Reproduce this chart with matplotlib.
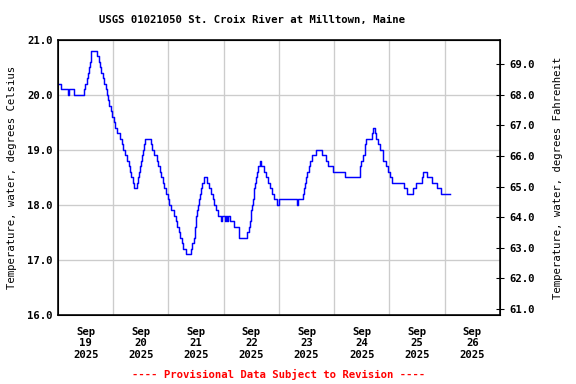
import matplotlib
matplotlib.use("Agg")
import matplotlib.pyplot as plt

# heures depuis le 19 sept 00:00 et temperature (degC)
heures = [0.0, 1.3, 4.4, 4.8, 7.0, 11.1, 11.8, 12.4, 13.1, 13.5, 14.0, 14.2, 14.4,
          17.0, 17.7, 18.1, 18.8, 19.4, 20.1, 20.7, 21.2, 21.6, 22.3, 22.9, 23.6,
          24.2, 24.9, 25.7, 27.1, 27.7, 28.4, 29.2, 30.1, 30.8, 31.4, 31.9, 32.5,
          32.9, 34.3, 34.9, 35.3, 35.8, 36.2, 36.7, 37.1, 37.5, 38.0, 40.4, 41.0,
          41.9, 42.8, 43.4, 44.1, 44.7, 45.4, 46.1, 46.7, 47.6, 48.4, 49.3, 50.2,
          51.1, 51.9, 52.6, 53.2, 53.9, 54.5, 55.4, 57.6, 58.3, 58.9, 59.6, 60.0,
          60.4, 60.9, 61.3, 61.7, 62.2, 62.6, 63.3, 64.6, 65.5, 66.3, 67.2, 67.9,
          68.5, 69.4, 70.7, 71.3, 72.4, 72.9, 73.3, 73.8, 74.6, 76.4, 78.6, 82.3,
          82.9, 83.4, 83.8, 84.2, 84.7, 85.1, 85.5, 86.0, 86.4, 87.1, 87.7, 88.2,
          89.7, 90.3, 91.2, 92.1, 92.9, 93.8, 95.3, 96.0, 103.9, 104.3, 106.5,
          106.9, 107.4, 107.8, 108.2, 108.9, 109.3, 110.2, 112.2, 114.8, 116.3,
          117.4, 119.6, 124.5, 131.0, 131.4, 131.8, 132.5, 133.2, 133.5, 134.0,
          136.2, 136.9, 137.6, 138.3, 139.1, 140.1, 141.0, 141.4, 142.3, 143.4,
          144.2, 144.9, 150.2, 151.4, 154.4, 155.4, 158.0, 158.7, 160.4, 162.5,
          164.5, 166.3, 170.4]
temp_c = [20.2, 20.1, 20.0, 20.1, 20.0, 20.1, 20.2, 20.3, 20.4, 20.5, 20.6, 20.7, 20.8,
          20.7, 20.6, 20.5, 20.4, 20.3, 20.2, 20.1, 20.0, 19.9, 19.8, 19.7, 19.6,
          19.5, 19.4, 19.3, 19.2, 19.1, 19.0, 18.9, 18.8, 18.7, 18.6, 18.5, 18.4,
          18.3, 18.4, 18.5, 18.6, 18.7, 18.8, 18.9, 19.0, 19.1, 19.2, 19.1, 19.0,
          18.9, 18.8, 18.7, 18.6, 18.5, 18.4, 18.3, 18.2, 18.1, 18.0, 17.9, 17.8,
          17.7, 17.6, 17.5, 17.4, 17.3, 17.2, 17.1, 17.2, 17.3, 17.4, 17.6, 17.8,
          17.9, 18.0, 18.1, 18.2, 18.3, 18.4, 18.5, 18.4, 18.3, 18.2, 18.1, 18.0,
          17.9, 17.8, 17.7, 17.8, 17.7, 17.8, 17.7, 17.8, 17.7, 17.6, 17.4, 17.5,
          17.6, 17.7, 17.9, 18.0, 18.1, 18.3, 18.4, 18.5, 18.6, 18.7, 18.8, 18.7,
          18.6, 18.5, 18.4, 18.3, 18.2, 18.1, 18.0, 18.1, 18.0, 18.1, 18.2,
          18.3, 18.4, 18.5, 18.6, 18.7, 18.8, 18.9, 19.0, 18.9, 18.8,
          18.7, 18.6, 18.5, 18.6, 18.7, 18.8, 18.9, 19.0, 19.1, 19.2,
          19.3, 19.4, 19.3, 19.2, 19.1, 19.0, 18.9, 18.8, 18.7, 18.6,
          18.5, 18.4, 18.3, 18.2, 18.3, 18.4, 18.5, 18.6, 18.5, 18.4,
          18.3, 18.2, 18.2]

jours = ["19", "20", "21", "22", "23", "24", "25", "26"]
yticks_c = [16.0, 17.0, 18.0, 19.0, 20.0, 21.0]
yticks_f = [61.0, 62.0, 63.0, 64.0, 65.0, 66.0, 67.0, 68.0, 69.0]

plt.rcParams['font.family'] = 'DejaVu Sans Mono'
plt.rcParams['font.weight'] = 'bold'
plt.rcParams['font.size'] = 8

fig = plt.figure(figsize=(6, 4), dpi=96)
ax = fig.add_axes([0.1007, 0.180, 0.7673, 0.716])

ax.plot(heures, temp_c, color='blue', linewidth=1.1, drawstyle='steps-post')

ax.set_xlim(0, 192)
ax.set_ylim(16, 21)
ax.set_yticks(yticks_c)
ax.set_yticklabels([f"{v:.1f}" for v in yticks_c])
ax.set_xticks([24 * i for i in range(1, 8)])
ax.set_xticklabels([])
ax.set_xticks([24 * i + 12 for i in range(8)], minor=True)
ax.set_xticklabels([f"Sep\n{j}\n2025" for j in jours], minor=True)
ax.tick_params(axis='x', which='both', length=0, pad=9)
ax.tick_params(axis='y', length=0, pad=4)
ax.grid(True, which='major', color='#cccccc', linewidth=1)
for s in ax.spines.values():
    s.set_linewidth(1.2)

ax2 = ax.twinx()
ax2.set_ylim(16 * 1.8 + 32, 21 * 1.8 + 32)
ax2.set_yticks(yticks_f)
ax2.set_yticklabels([f"{v:.1f}" for v in yticks_f])
ax2.tick_params(axis='y', direction='inout', length=6, pad=4)

ax.set_ylabel("Temperature, water, degrees Celsius", labelpad=8)
ax2.set_ylabel("Temperature, water, degrees Fahrenheit", labelpad=14)

fig.text(0.4375, 0.948, "USGS 01021050 St. Croix River at Milltown, Maine",
         ha='center', va='center')
fig.text(0.484, 0.024, "---- Provisional Data Subject to Revision ----",
         ha='center', va='center', color='red')

plt.savefig("out.png", dpi=96)
